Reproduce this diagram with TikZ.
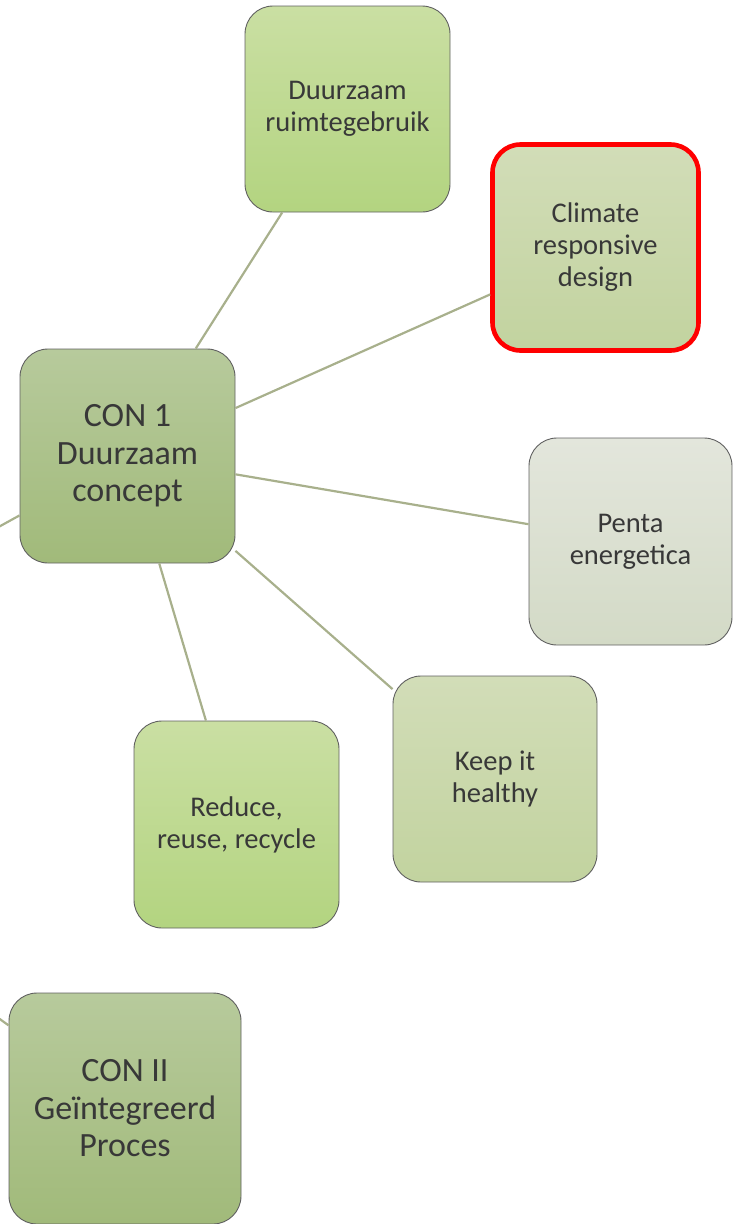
\documentclass[tikz,border=0pt]{standalone}
\usepackage{fontspec}
\setmainfont{Carlito}
\usepackage{xcolor}
\usepackage{tikz}
\usetikzlibrary{calc}
\definecolor{boxline}{HTML}{606060}
\definecolor{txtgray}{HTML}{383838}
\definecolor{linkolive}{HTML}{A8B08C}
\definecolor{focusred}{HTML}{FF0000}
\tikzset{
  box/.style={rectangle, rounded corners=28pt, draw=boxline, line width=0.9pt,
    align=center, text=txtgray, inner sep=0pt},
  topic/.style={box, minimum width=205pt, minimum height=206pt,
    font=\fontsize{28.5}{32}\selectfont},
  concept/.style={box, font=\fontsize{34}{37.5}\selectfont},
  freshA/.style={top color={rgb,255:red,202;green,223;blue,163},
    bottom color={rgb,255:red,179;green,212;blue,128}},   % bright green
  paleA/.style={top color={rgb,255:red,210;green,221;blue,184},
    bottom color={rgb,255:red,194;green,211;blue,159}},   % pale green
  greyA/.style={top color={rgb,255:red,227;green,230;blue,220},
    bottom color={rgb,255:red,211;green,218;blue,198}},   % grey green
  darkA/.style={top color={rgb,255:red,183;green,202;blue,156},
    bottom color={rgb,255:red,161;green,186;blue,122}},   % concept green
  focus/.style={draw=focusred, line width=4.6pt},
  link/.style={draw=linkolive, line width=2.2pt}
}

\begin{document}
\begin{tikzpicture}[x=1pt, y=-1pt]
  \clip (0,0) rectangle (733,1224);
  % hidden hub, off the page to the left
  \coordinate (hub) at (-388,740);
  % concepts
  \node[concept, darkA, minimum width=215pt, minimum height=214pt] (con1) at (127.5,456) {CON 1\\Duurzaam\\concept};
  \node[concept, darkA, minimum width=232pt, minimum height=231pt] (con2) at (125,1108.5) {CON II\\Geïntegreerd\\Proces};
  % topics round CON 1
  \node[topic, freshA] (ruimte) at (347.5,109) {Duurzaam\\ruimtegebruik};
  \node[topic, paleA, focus, minimum width=206pt] (climate) at (595.5,247.5) {Climate\\responsive\\design};
  \node[topic, greyA, minimum width=203pt, minimum height=207pt] (penta) at (630.5,541.5) {Penta\\energetica};
  \node[topic, paleA, minimum width=204pt] (healthy) at (495,779) {Keep it\\healthy};
  \node[topic, freshA, minimum height=207pt] (reduce) at (236.5,824.5) {Reduce,\\reuse, recycle};
  % connectors
  \foreach \t in {ruimte,climate,penta,healthy,reduce}
    \draw[link] (con1) -- (\t);
  \draw[link] (hub) -- (con1);
  \draw[link] (hub) -- (con2);
\end{tikzpicture}
\end{document}
